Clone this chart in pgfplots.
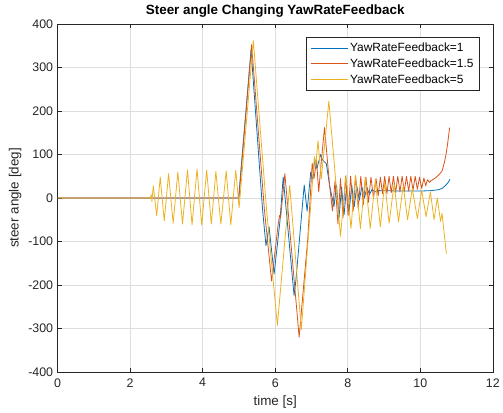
\documentclass[border=0pt]{standalone}
\usepackage{pgfplots}
\pgfplotsset{compat=1.18}
\usepackage{fontspec}
\setmainfont{Liberation Sans}

\definecolor{mblue}{rgb}{0,0.447,0.741}
\definecolor{mred}{rgb}{0.850,0.325,0.098}
\definecolor{myellow}{rgb}{0.929,0.694,0.125}
\definecolor{maxis}{rgb}{0.15,0.15,0.15}

\begin{document}
\begin{tikzpicture}
\begin{axis}[
  scale only axis,
  width=438pt, height=350pt,
  xmin=0, xmax=12, ymin=-400, ymax=400,
  xtick={0,2,...,12}, ytick={-400,-300,...,400},
  grid=major,
  major grid style={draw=black!13, line width=0.5pt},
  axis line style={draw=maxis, line width=0.5pt},
  tick style={draw=maxis, line width=0.5pt},
  tick align=inside,
  major tick length=4pt,
  /pgf/number format/assume math mode=true,
  tick label style={font=\fontsize{12.5}{14}\selectfont, text=maxis},
  xticklabel style={yshift=-3pt},
  yticklabel style={xshift=-1pt},
  xlabel={time [s]}, ylabel={steer angle [deg]},
  label style={font=\fontsize{13.5}{15}\selectfont, text=maxis},
  xlabel style={yshift=-2pt},
  ylabel style={yshift=0pt},
  title={\bfseries Steer angle Changing YawRateFeedback},
  title style={font=\fontsize{13.5}{15}\selectfont, yshift=-3pt},
  legend style={at={(rel axis cs:0.970,0.963)}, anchor=north east,
    draw=maxis, line width=0.5pt, font=\fontsize{12}{14}\selectfont,
    row sep=1.5pt, inner xsep=4pt, inner ysep=4pt, cells={anchor=west}},
  legend cell align=left,
  legend image code/.code={\draw[#1, line width=0.9pt] (0cm,0cm) -- (1.3cm,0cm);},
  every axis plot/.append style={line width=0.8pt, line join=round},
]
% YawRateFeedback = 1
\addplot[mblue] coordinates {
(0,0) (4.99,0) (5.334,341) (5.65,-25) (5.745,-110) (5.83,-66) (5.97,-175)
(6.13,-54) (6.22,48) (6.52,-224) (6.57,-190) (6.80,30) (6.88,-30) (6.98,60)
(7.03,40) (7.09,90) (7.15,68) (7.25,100) (7.30,88) (7.41,79) (7.50,29)
(7.62,-20) (7.69,30) (7.76,-45) (7.83,25) (7.90,-38) (7.97,28) (8.04,-30)
(8.11,30) (8.18,-20) (8.25,28) (8.32,-5) (8.39,26) (8.46,0) (8.53,24)
(8.60,8) (8.67,20) (8.75,14) (8.85,17) (9.50,16) (10.00,16) (10.30,17)
(10.50,19) (10.60,22) (10.70,29) (10.78,37) (10.82,43)
};
\addlegendentry{YawRateFeedback=1}
% YawRateFeedback = 1.5
\addplot[mred] coordinates {
(0,0) (5.00,0) (5.35,353) (5.70,-25) (5.90,-191) (6.08,-62) (6.12,-40)
(6.15,-45) (6.266,56) (6.66,-320) (6.90,-92) (7.02,80) (7.07,45) (7.14,86)
(7.20,14) (7.27,83) (7.36,162) (7.50,29) (7.58,-30) (7.65,40) (7.73,-60)
(7.80,45) (7.87,-45) (7.94,50) (8.01,-40) (8.08,50) (8.15,-30) (8.22,50)
(8.29,-25) (8.36,50) (8.43,-15) (8.50,48) (8.57,-10) (8.64,48) (8.71,0)
(8.78,45) (8.84,5) (8.90,48) (8.96,10) (9.02,50) (9.08,10) (9.14,50)
(9.20,12) (9.26,50) (9.32,12) (9.38,50) (9.44,14) (9.50,50) (9.56,15)
(9.62,50) (9.68,16) (9.74,50) (9.80,18) (9.86,50) (9.92,20) (9.98,48)
(10.04,22) (10.10,46) (10.15,28) (10.20,42) (10.25,36) (10.30,40)
(10.40,45) (10.50,52) (10.60,62) (10.66,80) (10.71,100) (10.75,122)
(10.78,142) (10.81,162)
};
\addlegendentry{YawRateFeedback=1.5}
% YawRateFeedback = 5
\addplot[myellow] coordinates {
(0,0) (2.56,0) (2.58,8) (2.60,-8) (2.638,28) (2.732,-41) (2.830,48)
(2.940,-53) (3.060,56) (3.186,-58) (3.315,60) (3.444,-60) (3.581,65)
(3.707,-62) (3.844,67) (3.973,-62) (4.110,64) (4.238,-60) (4.364,61)
(4.501,-60) (4.649,62) (4.775,-62) (4.912,64) (5.005,-22) (5.397,362)
(5.76,-25) (6.06,-293) (6.40,29) (6.72,-303) (7.08,95) (7.12,75)
(7.18,132) (7.27,44) (7.48,223) (7.80,-88) (7.95,52) (8.09,-70)
(8.21,52) (8.35,-70) (8.48,47) (8.62,-70) (8.76,40) (8.90,-66) (9.02,37)
(9.14,-58) (9.28,33) (9.40,-55) (9.53,29) (9.65,-50) (9.78,22) (9.92,-47)
(10.04,18) (10.16,-43) (10.28,14) (10.38,-50) (10.47,0) (10.56,-54)
(10.60,-35) (10.72,-128)
};
\addlegendentry{YawRateFeedback=5}
\end{axis}
\path ([xshift=-58pt,yshift=-41.3pt]current axis.south west)
  rectangle ([xshift=7pt,yshift=24.3pt]current axis.north east);
\end{tikzpicture}
\end{document}
